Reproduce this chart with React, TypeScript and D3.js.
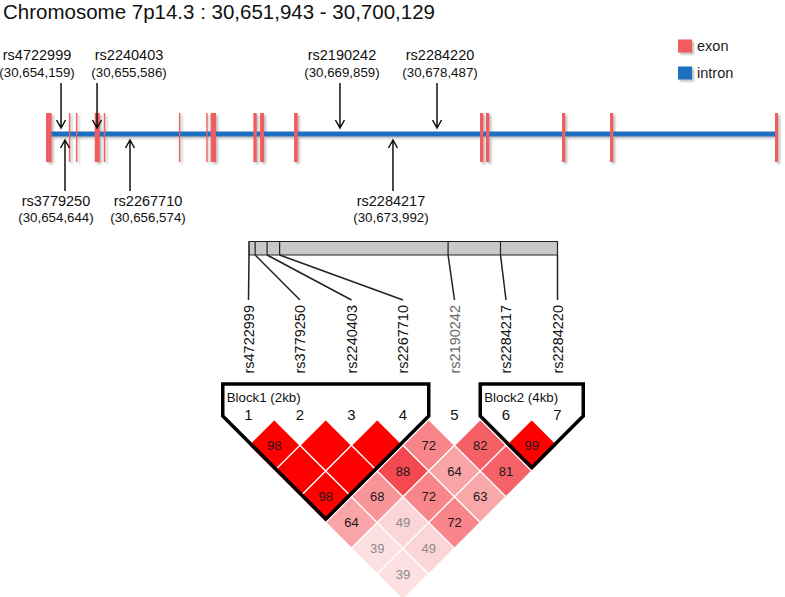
import React from "react";
import * as d3 from "d3";

// ---------- data ----------
const TITLE = "Chromosome 7p14.3 : 30,651,943 - 30,700,129";
const GENE_START = 30651943;
const GENE_END = 30700129;
// exon extents as drawn in the schematic, kb from gene start
const exonStarts = [0, 1.51, 1.97, 3.21, 3.8, 8.75, 10.55, 10.84, 13.65, 14.09, 16.33, 28.57, 28.96, 33.97, 37.13, 47.99];
const exonEnds = [0.37, 1.6, 2.06, 3.54, 3.9, 8.84, 10.64, 11.19, 13.87, 14.35, 16.57, 28.79, 29.18, 34.18, 37.34, 48.19];
const snpNames = ["rs4722999", "rs3779250", "rs2240403", "rs2267710", "rs2190242", "rs2284217", "rs2284220"];
const snpPositions = [30654159, 30654644, 30655586, 30656574, 30669859, 30673992, 30678487];
// schematic location of each SNP arrow (kb from gene start, as drawn)
const snpSchematicKb = [0.99, 1.25, 3.36, 5.53, 19.35, 22.84, 25.74];
const snpSide = ["above", "below", "above", "below", "above", "below", "above"];
// upper-triangular D' values (x100): row i -> pairs (i, i+1..7)
const ldRows = [
  [98, 100, 98, 64, 39, 39],
  [100, 100, 68, 49, 49],
  [100, 88, 72, 72],
  [72, 64, 63],
  [82, 81],
  [99],
];
const blockNames = ["Block1 (2kb)", "Block2 (4kb)"];
const blockFrom = [1, 6];
const blockTo = [4, 7];
const legendLabels = ["exon", "intron"];

// ---------- layout ----------
const W = 785;
const H = 597;
const RED = "#f15b5e";
const BLUE = "#1f6fbf";
const FONT = "'Liberation Sans', Arial, Helvetica, sans-serif";
const labelShift = [-24, -9, 32, 18, 2, -2, 3];

export default function App() {
  const geneX = d3.scaleLinear().domain([0, (GENE_END - GENE_START) / 1000]).range([46, 778]);
  const physX = d3.scaleLinear().domain([snpPositions[0], snpPositions[snpPositions.length - 1]]).range([249, 557.5]);
  const idx = d3.range(1, snpNames.length + 1);
  const ldX = d3.scalePoint<number>().domain(idx).range([248.5, 557.5]);
  const h = ldX.step() / 2;
  const ldTop = 419.5;
  const color = d3
    .scaleLinear<string>()
    .domain([35, 50, 65, 75, 90, 97])
    .range(["#fde4e6", "#fcd4d7", "#f9a1a3", "#f7797e", "#f3424a", "#ff0000"])
    .clamp(true);

  const cells: { i: number; j: number; v: number }[] = [];
  ldRows.forEach((row, r) => row.forEach((v, c) => cells.push({ i: r + 1, j: r + 2 + c, v })));

  const lineY = 134;

  return (
    <svg width={W} height={H} style={{ position: "absolute", left: 0, top: 0, background: "#fff" }} fontFamily={FONT}>
      <defs>
        <filter id="sh" x="-20%" y="-20%" width="140%" height="160%">
          <feDropShadow dx="2" dy="2" stdDeviation="1.3" floodColor="#888" floodOpacity="0.55" />
        </filter>
      </defs>
      <text x={3} y={18.5} fontSize={20.5} fill="#111">{TITLE}</text>

      {/* legend */}
      {legendLabels.map((l, k) => (
        <g key={l}>
          <rect x={678} y={39.5 + k * 27} width={14} height={13} fill={k === 0 ? RED : BLUE} filter="url(#sh)" />
          <text x={697} y={50.5 + k * 27} fontSize={14.5} fill="#222">{l}</text>
        </g>
      ))}

      {/* gene */}
      <g filter="url(#sh)">
        <rect x={geneX(0)} y={lineY - 2.5} width={geneX.range()[1] - geneX(0)} height={5} fill={BLUE} />
        {exonStarts.map((s, k) => (
          <rect key={k} x={geneX(s)} y={113} width={Math.max(1.4, geneX(exonEnds[k]) - geneX(s))} height={49} fill={RED} />
        ))}
      </g>

      {/* SNP arrows */}
      {snpNames.map((n, k) => {
        const x = geneX(snpSchematicKb[k]);
        const lx = x + labelShift[k];
        const above = snpSide[k] === "above";
        const pos = "(" + d3.format(",")(snpPositions[k]) + ")";
        if (above) {
          return (
            <g key={n}>
              <text x={lx} y={60} fontSize={14.5} textAnchor="middle" fill="#111">{n}</text>
              <text x={lx} y={77} fontSize={13.3} textAnchor="middle" fill="#111">{pos}</text>
              <path d={`M${x},83 L${x},128 M${x - 4.5},120 L${x},128 L${x + 4.5},120`} stroke="#111" strokeWidth={1.5} fill="none" />
            </g>
          );
        }
        return (
          <g key={n}>
            <path d={`M${x},191 L${x},140 M${x - 4.5},148 L${x},140 L${x + 4.5},148`} stroke="#111" strokeWidth={1.5} fill="none" />
            <text x={lx} y={206} fontSize={14.5} textAnchor="middle" fill="#111">{n}</text>
            <text x={lx} y={222} fontSize={13.3} textAnchor="middle" fill="#111">{pos}</text>
          </g>
        );
      })}

      {/* physical position bar */}
      <rect x={physX.range()[0]} y={241.5} width={physX.range()[1] - physX.range()[0]} height={13.5} fill="#c8c8c8" stroke="#222" strokeWidth={1} />
      {snpPositions.map((p, k) => (
        <g key={k}>
          <line x1={physX(p)} y1={241.5} x2={physX(p)} y2={255} stroke="#222" strokeWidth={1.2} />
          <line x1={physX(p)} y1={255} x2={ldX(k + 1)!} y2={300} stroke="#222" strokeWidth={1.5} />
        </g>
      ))}

      {/* marker names */}
      {snpNames.map((n, k) => (
        <text
          key={n}
          transform={`translate(${ldX(k + 1)! + 5},305) rotate(-90)`}
          textAnchor="end"
          fontSize={14.5}
          fill={k === 4 ? "#666" : "#111"}
        >
          {n}
        </text>
      ))}

      {/* LD cells */}
      {cells.map(({ i, j, v }) => {
        const cx = (ldX(i)! + ldX(j)!) / 2;
        const cy = ldTop + (j - i) * h;
        return (
          <g key={`${i}-${j}`}>
            <path
              d={`M${cx},${cy - h} L${cx + h},${cy} L${cx},${cy + h} L${cx - h},${cy} Z`}
              fill={color(v)}
              stroke="#fff"
              strokeWidth={1.2}
            />
            {v < 100 && (
              <text x={cx} y={cy} dy="0.36em" textAnchor="middle" fontSize={13} fill={v < 50 ? "#8a8a8a" : "#1a1a1a"}>
                {v}
              </text>
            )}
          </g>
        );
      })}

      {/* block outlines */}
      {blockNames.map((b, k) => {
        const xa = ldX(blockFrom[k])! - h;
        const xb = ldX(blockTo[k])! + h;
        const mid = (xa + xb) / 2;
        const yv = 416;
        return (
          <g key={b}>
            <path
              d={`M${xa},384 L${xb},384 L${xb},${yv} L${mid},${yv + (xb - xa) / 2} L${xa},${yv} Z`}
              fill="none"
              stroke="#000"
              strokeWidth={3.5}
              strokeLinejoin="miter"
            />
            <text x={xa + 4} y={402} fontSize={13.3} fill="#111">{b}</text>
          </g>
        );
      })}

      {/* marker numbers */}
      {idx.map((i) => (
        <text key={i} x={ldX(i)!} y={420} fontSize={15} textAnchor="middle" fill="#111">{i}</text>
      ))}
    </svg>
  );
}
